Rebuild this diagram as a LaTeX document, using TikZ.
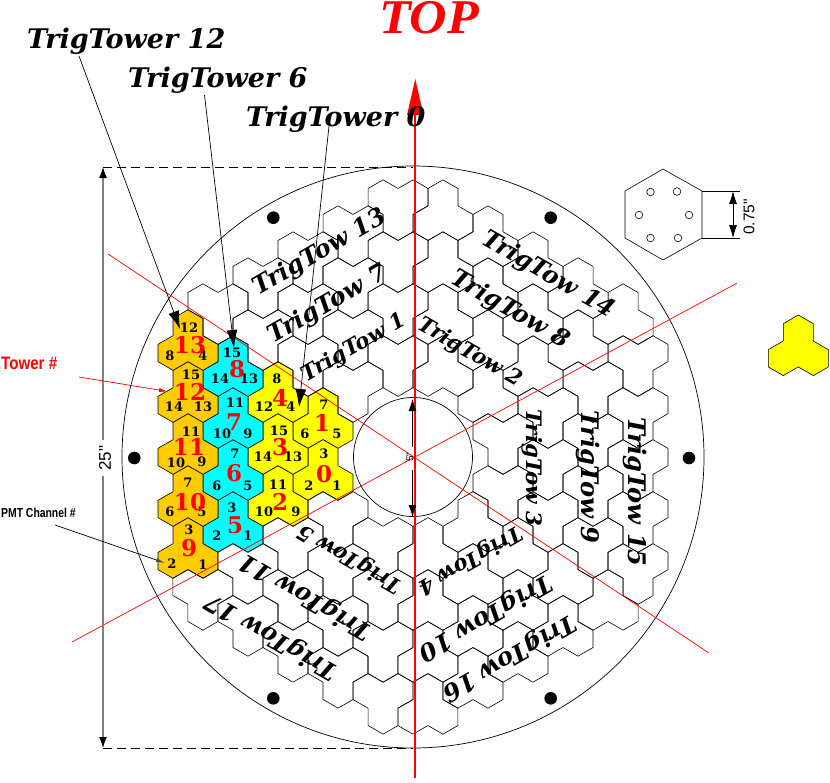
\documentclass[tikz,border=0pt]{standalone}
\usepackage{fontspec}
\usetikzlibrary{arrows.meta}
\setmainfont{DejaVu Serif}
\newfontfamily\helv{Liberation Sans}
\newfontfamily\tms{Liberation Serif}
\newcommand{\fs}[1]{\fontsize{#1}{#1}\selectfont}
\definecolor{orangetile}{HTML}{FFCC00}
\definecolor{cyantile}{HTML}{00FFFF}
\definecolor{yellowtile}{HTML}{FFFF00}
\definecolor{redink}{HTML}{FF0000}
\tikzset{
  hexline/.style={draw=black,line width=0.6pt,line join=round},
  trefoilpath/.style={insert path={(0,-17.32)--(15,-8.66)--(15,8.66)--(30,17.32)--(30,34.64)--(15,43.3)--(0,34.64)--(-15,43.3)--(-30,34.64)--(-30,17.32)--(-15,8.66)--(-15,-8.66)--cycle}},
  towlabel/.style={inner sep=0pt,font=\bfseries\itshape},
  leadlabel/.style={inner sep=0pt,anchor=base west,font=\fs{27}\bfseries\itshape},
  pmt/.style={inner sep=0pt,font=\fs{13}\bfseries},
  twr/.style={inner sep=0pt,text=redink,font=\fs{23}\bfseries},
  leader/.style={draw=black,line width=0.7pt,-{Latex[length=18pt,width=11pt]}},
  redline/.style={draw=redink,line width=0.7pt},
  blackdot/.style={fill=black,draw=none},
  dimline/.style={draw=black!50,line width=1.2pt},
}
\begin{document}
\begin{tikzpicture}[x=1pt,y=-1pt]
\useasboundingbox (0,0) rectangle (830,782);
% outer and inner circles
\coordinate (ctr) at (413,457);
\draw[line width=0.7pt] (ctr) circle[radius=291];
\draw[line width=0.7pt] (ctr) circle[radius=59.5];
% coloured tiles, sector 0
\begin{scope}[shift={(413,457)}]
\foreach \k/\m/\c in {-6/-2/yellowtile,-6/0/yellowtile,-9/1/yellowtile,-9/-1/yellowtile,-9/-3/yellowtile,
  -12/2/cyantile,-12/0/cyantile,-12/-2/cyantile,-12/-4/cyantile,
  -15/3/orangetile,-15/1/orangetile,-15/-1/orangetile,-15/-3/orangetile,-15/-5/orangetile}{
  \draw[hexline,fill=\c,shift={({15*\k},{26*\m})},trefoilpath];
}
\end{scope}
% other sectors, rotated in steps of 60 degrees
\foreach \s in {1,...,5}{
\begin{scope}[shift={(413,457)},rotate={-60*\s}]
\foreach \k/\m in {-6/-2,-6/0,-9/1,-9/-1,-9/-3,-12/2,-12/0,-12/-2,-12/-4,-15/3,-15/1,-15/-1,-15/-3,-15/-5}{
  \draw[hexline,shift={({15*\k},{26*\m})},trefoilpath];
}
\end{scope}
}
% numbers
\foreach \n/\t/\x/\y in {
 a1/12/189/328,a2/8/170/356,a3/4/203/356,
 b1/15/191/375,b2/14/174/407,b3/13/203/407,
 c1/11/191/432,c2/10/176/463,c3/9/202/462,
 d1/7/188/483,d2/6/170/512,d3/5/202/512,
 e1/3/189/530,e2/2/172/564,e3/1/203/565,
 f1/15/232/353,f2/14/220/379,f3/13/249/379,
 g1/11/235/403,g2/10/222/434,g3/9/248/434,
 h1/7/235/454,h2/6/217/486,h3/5/248/486,
 i1/3/232/508,i2/2/217/536,i3/1/248/536,
 j1/8/277/379,j2/12/264/407,j3/4/291/407,
 k1/15/279/431,k2/14/263/457,k3/13/293/457,
 l1/11/278/485,l2/10/264/512,l3/9/296/512,
 m1/7/324/405,m2/6/305/434,m3/5/337/434,
 n1/3/324/454,n2/2/309/486,n3/1/337/486}{
  \node[pmt] (p\n) at (\x,\y) {\t};
}
\foreach \t/\x/\y in {13/190/345,12/190/392,11/189/447,10/190/502,9/189/548,
 8/237/369,7/234/422,6/234/473,5/235/525,4/280/398,3/280/447,2/280/502,1/322/423,0/324/474}{
  \node[twr] (t\t) at (\x,\y) {\t};
}
% sector lines
\coordinate (ra) at (108,254); \coordinate (rb) at (709,653);
\coordinate (rc) at (736.7,283.3); \coordinate (rd) at (72,642);
\draw[redline] (ra) -- (rb);
\draw[redline] (rc) -- (rd);
% mounting holes
\foreach \n/\x/\y in {1/273.3/217.7,2/550.7/217.7,3/134.3/458,4/689/458,5/273.3/698.3,6/550.7/698.3}{
  \fill[blackdot] (\x,\y) coordinate (hole\n) circle[radius=6.3];
}
% tower group labels
\foreach \t/\x/\y/\r/\z in {1/354/348/30/21.3,7/328/305/30/24.2,13/320/253/30/24.2,
  2/470/353/-30/21.3,8/510/310/-30/24.2,14/548/275/-30/24.2,
  3/532/468/-90/21.3,9/588/477/-90/24.2,15/635/492/-90/24.2,
  4/470/560/-150/21.3,10/485/617/-150/24.2,16/509/657/-150/24.2,
  5/350/558/150/21.3,11/306/596/150/24.2,17/272/636/150/24.2}{
  \node[towlabel,rotate=\r] (tow\t) at (\x,\y) {\fs{\z}TrigTow \t};
}
% central vertical line
\coordinate (topt) at (415.3,79); \coordinate (topb) at (415.3,778);
\draw[redink,line width=2pt] (topb) -- (415.3,112);
\fill[redink] (topt) -- (423.5,115) -- (407,115) -- cycle;
% overall dimension
\coordinate (dimt) at (103,167); \coordinate (dimb) at (103,748);
\draw[black,line width=0.6pt,dash pattern=on 9pt off 5pt] (dimt) -- (413,167);
\draw[black,line width=0.6pt,dash pattern=on 9pt off 5pt] (dimb) -- (413,748);
\node[inner sep=0pt,rotate=90,font=\helv\fs{17}] (d25) at (105,458) {25"};
\draw[dimline,-{Latex[length=11pt,width=8pt,black]}] (103,440) -- (dimt);
\draw[dimline,-{Latex[length=11pt,width=8pt,black]}] (103,476) -- (dimb);
% bore dimension
\coordinate (bt) at (412.5,399); \coordinate (bb) at (412.5,517);
\node[inner sep=0pt,rotate=90,font=\helv\fs{10}] (d5) at (410,457) {5"};
\draw[black,line width=0.8pt,-{Latex[length=12pt,width=8pt]}] (412.5,447) -- (bt);
\draw[black,line width=0.8pt,-{Latex[length=12pt,width=8pt]}] (412.5,470) -- (bb);
% top labels
\node[inner sep=0pt,anchor=base west,text=redink,xscale=1.07,font=\tms\fs{48.5}\bfseries\itshape] (top) at (379,33) {TOP};
\node[leadlabel] (l12) at (27,48) {TrigTower 12};
\node[leadlabel] (l6) at (128,87) {TrigTower 6};
\node[leadlabel] (l0) at (246,126) {TrigTower 0};
\coordinate (s12) at (79,56); \coordinate (e12) at (180,329);
\coordinate (s6) at (204.5,95); \coordinate (e6) at (234,348);
\coordinate (s0) at (329,126); \coordinate (e0) at (299,407);
\draw[leader] (s12) -- (e12);
\draw[leader] (s6) -- (e6);
\draw[leader] (s0) -- (e0);
% side labels
\node[inner sep=0pt,anchor=base west,text=redink,font=\helv\fs{18}\bfseries,xscale=0.84] (ltower) at (1,369) {Tower \#};
\node[inner sep=0pt,anchor=base west,font=\helv\fs{13}\bfseries,xscale=0.8] (lpmt) at (1,517.5) {PMT Channel \#};
\coordinate (st) at (79,377); \coordinate (et) at (168,391.5);
\coordinate (sp) at (55,525); \coordinate (ep) at (165,563);
\draw[redink,line width=0.7pt,-{Latex[length=9pt,width=4pt]}] (st) -- (et);
\draw[black,line width=0.7pt,-{Latex[length=9pt,width=4pt,black!70]}] (sp) -- (ep);
% hexagon detail
\coordinate (h1) at (663,169); \coordinate (h2) at (702,191); \coordinate (h3) at (702,238);
\coordinate (h4) at (663,260); \coordinate (h5) at (625,238); \coordinate (h6) at (625,191);
\draw[hexline] (h1) -- (h2) -- (h3) -- (h4) -- (h5) -- (h6) -- cycle;
\foreach \x/\y in {650.5/192,677/191.5,639/215,689/215,650.5/238,678/238}{
  \draw[line width=0.6pt] (\x,\y) circle[radius=3.8];
}
\coordinate (g1) at (740,191); \coordinate (g2) at (740,238);
\draw[line width=0.6pt] (h2) -- (g1);
\draw[line width=0.6pt] (h3) -- (g2);
\draw[line width=0.7pt,{Latex[length=13pt,width=8pt]}-{Latex[length=13pt,width=8pt]}] (733,191) -- (733,238);
\node[inner sep=0pt,rotate=90,font=\helv\fs{15.5}] (d75) at (749,217) {0.75"};
% yellow icon
\draw[hexline,fill=yellowtile,shift={(798.3,332.3)},trefoilpath];
\end{tikzpicture}
\end{document}
